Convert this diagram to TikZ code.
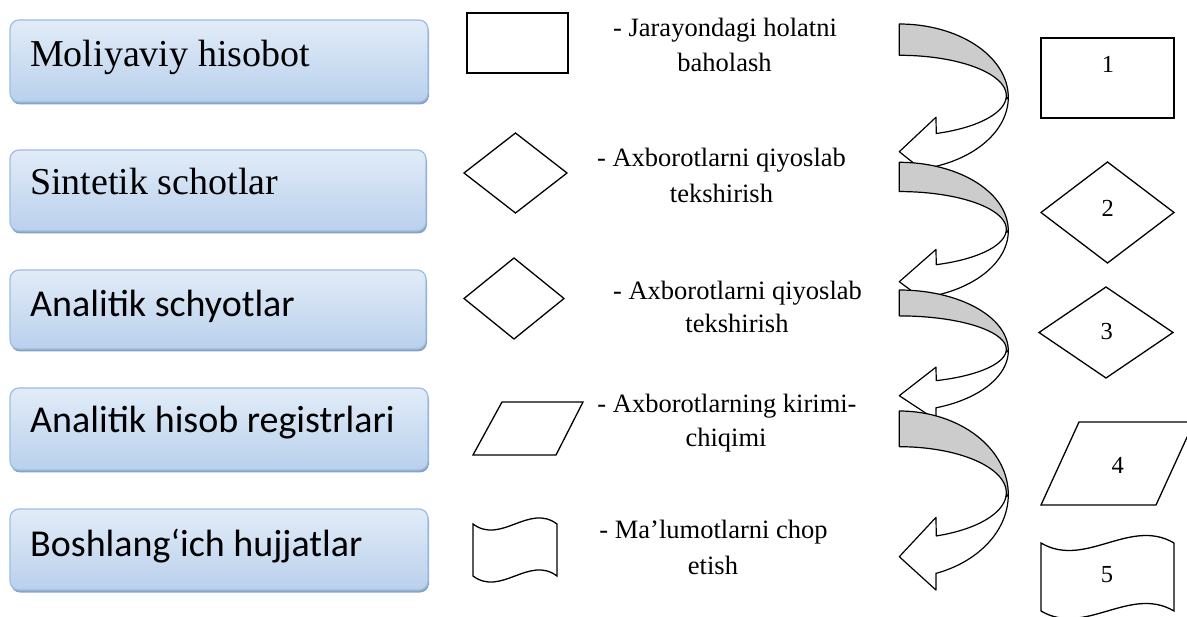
\documentclass[tikz,border=0pt]{standalone}
\usepackage{fontspec}
\setmainfont{Liberation Serif}
\newfontfamily\calibri{Carlito}
\usetikzlibrary{shadows}
\definecolor{boxtop}{HTML}{E2ECF8}
\definecolor{boxbot}{HTML}{B9D0EC}
\definecolor{boxline}{HTML}{9CBEE4}
\definecolor{boxshadow}{HTML}{8CA3BE}
\definecolor{bandgray}{HTML}{CCCCCC}
\newcommand\curvarrow[2]{%
  \pgfmathsetmacro\aT{#1}\pgfmathsetmacro\aH{#2}%
  \draw[arr, fill=bandgray]
    plot[domain=-90:0, samples=40, variable=\t] ({899.3+109*cos(\t)},{\aT+0.574*\aH*(1+sin(\t))})
    -- plot[domain=5:-90, samples=40, variable=\t] ({899.3+107*cos(\t)},{\aT+0.561*\aH+0.316*\aH*sin(\t)})
    -- cycle;
  \draw[arr, fill=white]
    plot[domain=5:69.8, samples=40, variable=\t] ({899.3+107*cos(\t)},{\aT+0.561*\aH+0.316*\aH*sin(\t)})
    -- (936,{\aT+0.73*\aH}) -- (899.3,{\aT+\aH}) -- (936,{\aT+1.229*\aH}) -- (936,{\aT+1.114*\aH})
    -- plot[domain=70.2:0, samples=40, variable=\t] ({899.3+109*cos(\t)},{\aT+0.574*\aH*(1+sin(\t))})
    -- cycle;
}
\begin{document}
\begin{tikzpicture}[x=1pt,y=-1pt,
  lbox/.style={rectangle, rounded corners=9pt, top color=boxtop, bottom color=boxbot,
    draw=boxline, line width=1.2pt, inner sep=0pt,
    drop shadow={shadow xshift=1pt, shadow yshift=-2.5pt, fill=boxshadow, opacity=1}},
  bigserif/.style={font=\fontsize{38}{40}\selectfont, inner sep=0pt, anchor=base west},
  bigsans/.style={font=\calibri\fontsize{38}{40}\selectfont, inner sep=0pt, anchor=base west},
  legtext/.style={font=\fontsize{26.5}{30}\selectfont, inner sep=0pt, anchor=base},
  numtext/.style={font=\fontsize{24.5}{26}\selectfont, inner sep=0pt, anchor=base},
  shp/.style={draw=black, line width=1.3pt, line join=miter},
  arr/.style={draw=black, line width=1.2pt, line join=round},
]
\useasboundingbox (0,0) rectangle (1187,617);

% left boxes
\node[lbox, minimum width=418pt, minimum height=82pt] (b1) at (219,61) {};
\node[lbox, minimum width=416pt, minimum height=81pt] (b2) at (218,190.5) {};
\node[lbox, minimum width=416pt, minimum height=79pt] (b3) at (218,309.5) {};
\node[lbox, minimum width=418pt, minimum height=82pt] (b4) at (219,429) {};
\node[lbox, minimum width=418pt, minimum height=81pt] (b5) at (219,549.5) {};
\node[bigserif] (t1) at (30,67) {Moliyaviy hisobot};
\node[bigserif] (t2) at (30,195) {Sintetik schotlar};
\node[bigsans] (t3) at (30,317) {Analitik schyotlar};
\node[bigsans] (t4) at (30,433) {Analitik hisob registrlari};
\node[bigsans] (t5) at (30,557) {Boshlang‘ich hujjatlar};

% legend shapes
\draw[shp] (467,13) rectangle (568,73);
\draw[shp] (464,173) -- (515.5,133) -- (567,173) -- (515.5,213) -- cycle;
\draw[shp] (464,298.5) -- (514,258) -- (564,298.5) -- (514,339) -- cycle;
\draw[shp] (502,402) -- (583,402) -- (556,455) -- (473,455) -- cycle;
\draw[shp] (473,524) .. controls (501,545) and (529,503) .. (557,524) -- (557,576)
  .. controls (529,555) and (501,597) .. (473,576) -- cycle;

% legend texts
\node[legtext] (l1a) at (725,37) {- Jarayondagi holatni};
\node[legtext] (l1b) at (724.5,72) {baholash};
\node[legtext] (l2a) at (721.5,167) {- Axborotlarni qiyoslab};
\node[legtext] (l2b) at (721.5,203) {tekshirish};
\node[legtext] (l3a) at (737.5,300) {- Axborotlarni qiyoslab};
\node[legtext] (l3b) at (737,333) {tekshirish};
\node[legtext] (l4a) at (727,413) {- Axborotlarning kirimi-};
\node[legtext] (l4b) at (726,447) {chiqimi};
\node[legtext] (l5a) at (713.5,539) {- Ma’lumotlarni chop};
\node[legtext] (l5b) at (713,575) {etish};

% curved arrows
\curvarrow{24}{127.7}
\curvarrow{162.3}{119.4}
\curvarrow{290}{105.7}
\curvarrow{411}{145.7}

% right column shapes
\draw[shp] (1041,38) rectangle (1174,118);
\draw[shp] (1041,212.5) -- (1107.5,162) -- (1174,212.5) -- (1107.5,263) -- cycle;
\draw[shp] (1039,332.5) -- (1106,287) -- (1173,332.5) -- (1106,378) -- cycle;
\draw[shp] (1079,422) -- (1194,422) -- (1156,505) -- (1041,505) -- cycle;
\draw[shp] (1041,543) .. controls (1085,569) and (1130,517) .. (1174,543) -- (1174,611)
  .. controls (1130,585) and (1085,637) .. (1041,611) -- cycle;
\node[numtext] (n1) at (1108,73) {1};
\node[numtext] (n2) at (1107.7,216.7) {2};
\node[numtext] (n3) at (1106.7,340) {3};
\node[numtext] (n4) at (1117.7,474) {4};
\node[numtext] (n5) at (1107,583) {5};
\end{tikzpicture}
\end{document}
